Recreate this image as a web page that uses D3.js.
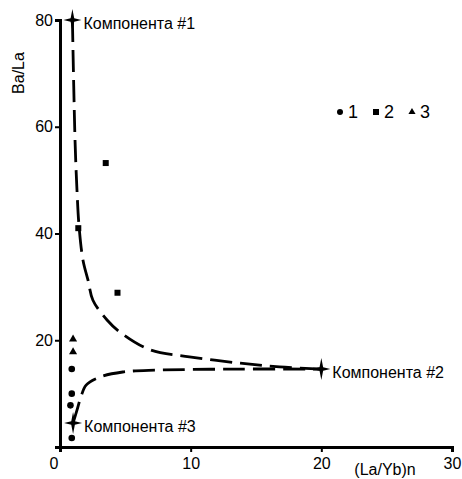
<!DOCTYPE html>
<html><head><meta charset="utf-8">
<script src="https://cdn.jsdelivr.net/npm/d3@7"></script>
<style>body{margin:0;background:#fff}svg{display:block}text{font-family:"Liberation Sans",Arial,sans-serif;fill:#000}</style>
</head><body><svg id="c" width="462" height="479"></svg>
<script>
const xTicks = [0, 10, 20, 30];
const yTicks = [20, 40, 60, 80];
const series1 = [[0.9, 14.6], [0.9, 10.0], [0.8, 7.8], [0.9, 1.7]];
const series2 = [[3.5, 53.2], [1.4, 41.0], [4.4, 28.9]];
const series3 = [[1.0, 20.2], [1.0, 17.8]];
const components = [
  {name: "Компонента #1", x: 0.95, y: 80.0},
  {name: "Компонента #2", x: 20.0, y: 14.6},
  {name: "Компонента #3", x: 1.0, y: 4.5}
];
const curve12 = [[0.95,80],[1.15,57.5],[1.3,48.1],[1.45,41.6],[1.76,35.0],[2.14,31.3],[2.52,27.5],[3.6,23.8],[4.6,21.5],[6.9,18.2],[9.9,16.9],[13.8,15.7],[16.8,15.0],[20,14.6]];
const curve32 = [[1.0,4.5],[1.3,6.9],[1.6,9.4],[2.0,11.6],[3.06,13.1],[4.8,14.05],[7.4,14.4],[13.8,14.6],[20,14.6]];
const legendItems = [{label: "1", shape: "circle"}, {label: "2", shape: "square"}, {label: "3", shape: "triangle"}];

const svg = d3.select("#c");
const x = d3.scaleLinear().domain([0, 30]).range([60, 452]);
const y = d3.scaleLinear().domain([0, 80]).range([447, 20]);

// curves
const line = d3.line().x(d => x(d[0])).y(d => y(d[1])).curve(d3.curveCatmullRom.alpha(0.5));
[curve12, curve32].forEach(c => {
  svg.append("path").attr("d", line(c)).attr("fill", "none").attr("stroke", "#000")
    .attr("stroke-width", 2.8).attr("stroke-dasharray", "22,8");
});

// axes
const xAxis = svg.append("g").attr("transform", `translate(0,${y(0)})`)
  .call(d3.axisBottom(x).tickValues(xTicks).tickSize(5).tickFormat(d => d === 0 ? "" : d));
const yAxis = svg.append("g").attr("transform", `translate(${x(0)},0)`)
  .call(d3.axisLeft(y).tickValues(yTicks).tickSize(5).tickPadding(2));
[xAxis, yAxis].forEach(g => {
  g.select(".domain").attr("stroke-width", 3).attr("stroke", "#000");
  g.selectAll(".tick line").attr("stroke-width", 2).attr("stroke", "#000");
  g.selectAll(".tick text").attr("font-size", 16).attr("font-family", "Liberation Sans, Arial, sans-serif").attr("fill", "#000");
});
xAxis.selectAll(".tick text").attr("dy", "0.9em");
svg.append("text").attr("x", x(0) - 6).attr("y", y(0) + 22).attr("text-anchor", "middle").attr("font-size", 16).text("0");

svg.append("text").attr("transform", `translate(24,73) rotate(-90)`).attr("text-anchor", "middle").attr("font-size", 16).text("Ba/La");
svg.append("text").attr("x", 385).attr("y", 475).attr("text-anchor", "middle").attr("font-size", 16).text("(La/Yb)n");

// points
svg.selectAll(".s1").data(series1).enter().append("circle").attr("cx", d => x(d[0])).attr("cy", d => y(d[1])).attr("r", 3.3).attr("fill", "#000");
svg.selectAll(".s2").data(series2).enter().append("rect").attr("x", d => x(d[0]) - 3).attr("y", d => y(d[1]) - 3).attr("width", 6).attr("height", 6).attr("fill", "#000");
const tri = d3.symbol().type(d3.symbolTriangle).size(28);
svg.selectAll(".s3").data(series3).enter().append("path").attr("d", tri).attr("transform", d => `translate(${x(d[0])},${y(d[1])})`).attr("fill", "#000");

// component stars
const star = "M0,-11 L1.8,-1.8 L9,0 L1.8,1.8 L0,11 L-1.8,1.8 L-9,0 L-1.8,-1.8 Z";
const cg = svg.selectAll(".comp").data(components).enter().append("g").attr("transform", d => `translate(${x(d.x)},${y(d.y)})`);
cg.append("path").attr("d", star).attr("fill", "#000");
cg.append("text").attr("x", 11).attr("y", 9).attr("font-size", 16).text(d => d.name);

// legend
const lg = svg.append("g").attr("transform", "translate(340,112)");
legendItems.forEach((d, i) => {
  const g = lg.append("g").attr("transform", `translate(${i * 36},0)`);
  if (d.shape === "circle") g.append("circle").attr("r", 3).attr("fill", "#000");
  else if (d.shape === "square") g.append("rect").attr("x", -3).attr("y", -3).attr("width", 6).attr("height", 6).attr("fill", "#000");
  else g.append("path").attr("d", d3.symbol().type(d3.symbolTriangle).size(22)).attr("fill", "#000");
  g.append("text").attr("x", 8).attr("y", 6).attr("font-size", 18).text(d.label);
});
</script></body></html>
